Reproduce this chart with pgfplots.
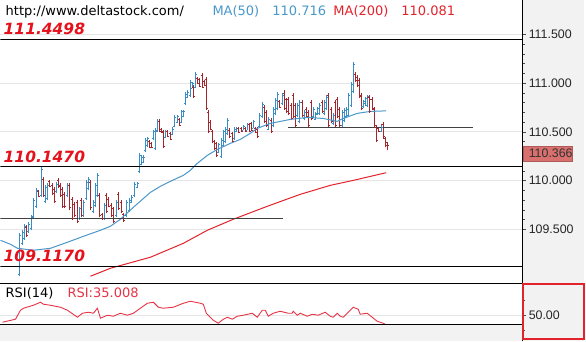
\documentclass[border=0pt]{standalone}
\usepackage{pgfplots}
\pgfplotsset{compat=1.18}
\usepackage{pgfplotstable}
\usepackage{fontspec}
\setmainfont{DejaVu Sans}
\newfontfamily\labfont{Liberation Sans}
\newfontfamily\lvlfont{DejaVu Sans Bold Oblique}
\definecolor{barblue}{HTML}{3A8DC4}
\definecolor{barred}{HTML}{A3262C}
\definecolor{mablue}{HTML}{4A98C9}
\definecolor{mared}{HTML}{E3232C}
\definecolor{rsired}{HTML}{E63446}
\definecolor{lvlred}{HTML}{E5111B}
\definecolor{gridc}{HTML}{E6E6E6}
\definecolor{panelgray}{HTML}{F2F2F2}
\definecolor{pricebox}{HTML}{D9706E}
\pgfdeclareplotmark{otick}{\pgfpathmoveto{\pgfqpoint{-1.7pt}{0pt}}\pgfpathlineto{\pgfqpoint{0pt}{0pt}}\pgfusepathqstroke}
\pgfdeclareplotmark{ctick}{\pgfpathmoveto{\pgfqpoint{0pt}{0pt}}\pgfpathlineto{\pgfqpoint{1.7pt}{0pt}}\pgfusepathqstroke}

\pgfplotstableread{
x o h l c
19 109.04 109.459 109.018 109.44
22 109.36 109.490 109.336 109.47
24 109.41 109.551 109.387 109.53
28 109.48 109.572 109.459 109.55
31 109.51 109.643 109.490 109.62
33 109.63 109.818 109.613 109.80
36 109.74 109.920 109.715 109.90
41 109.85 110.136 109.828 110.11
45 109.79 109.951 109.767 109.93
47 109.82 109.972 109.797 109.95
56 109.89 109.982 109.869 109.96
67 109.85 109.972 109.828 109.95
79 109.61 109.726 109.592 109.71
83 109.64 109.797 109.623 109.78
86 109.82 110.002 109.797 109.98
88 109.92 110.033 109.900 110.01
93 109.68 109.797 109.664 109.78
95 109.75 109.972 109.726 109.95
97 109.85 110.074 109.828 110.05
104 109.61 109.767 109.592 109.75
116 109.64 109.797 109.623 109.78
126 109.64 109.797 109.623 109.78
129 109.69 109.818 109.674 109.80
131 109.78 109.849 109.767 109.83
134 109.85 109.982 109.828 109.96
137 109.93 109.982 109.920 109.97
139 110.09 110.279 110.074 110.26
141 110.17 110.259 110.156 110.24
143 110.19 110.259 110.177 110.24
145 110.31 110.433 110.290 110.41
147 110.36 110.444 110.341 110.43
153 110.43 110.515 110.413 110.50
155 110.33 110.536 110.310 110.52
157 110.51 110.628 110.495 110.61
165 110.44 110.515 110.433 110.50
172 110.47 110.546 110.464 110.53
174 110.56 110.669 110.546 110.65
177 110.60 110.669 110.587 110.66
181 110.60 110.721 110.587 110.71
183 110.66 110.721 110.649 110.71
185 110.79 110.905 110.772 110.89
187 110.85 110.926 110.844 110.91
190 110.87 111.028 110.854 111.01
192 110.95 111.008 110.946 111.00
195 110.96 111.110 110.946 111.09
218 110.29 110.382 110.279 110.37
221 110.25 110.433 110.228 110.41
223 110.36 110.515 110.341 110.50
225 110.40 110.546 110.382 110.53
227 110.48 110.638 110.464 110.62
234 110.43 110.546 110.413 110.53
236 110.50 110.546 110.495 110.54
243 110.52 110.567 110.515 110.56
247 110.52 110.587 110.515 110.58
253 110.54 110.618 110.536 110.61
259 110.56 110.690 110.546 110.67
262 110.66 110.803 110.638 110.78
268 110.53 110.649 110.515 110.63
273 110.57 110.751 110.546 110.73
275 110.69 110.844 110.669 110.82
277 110.74 110.905 110.721 110.88
282 110.79 110.895 110.772 110.87
297 110.67 110.792 110.649 110.77
299 110.61 110.823 110.587 110.80
304 110.64 110.721 110.618 110.70
313 110.66 110.751 110.638 110.73
315 110.63 110.700 110.618 110.69
317 110.68 110.751 110.669 110.74
319 110.69 110.792 110.669 110.77
324 110.69 110.823 110.669 110.80
326 110.74 110.874 110.721 110.85
333 110.59 110.690 110.567 110.67
342 110.57 110.721 110.546 110.70
344 110.62 110.741 110.597 110.72
346 110.66 110.751 110.638 110.73
348 110.67 110.895 110.649 110.87
351 110.77 111.008 110.751 110.99
353 110.92 111.213 110.895 111.19
363 110.76 110.823 110.741 110.81
365 110.79 110.854 110.772 110.84
367 110.77 110.874 110.751 110.86
381 110.51 110.567 110.495 110.55
}\upbars

\pgfplotstableread{
x o h l c
26 109.52 109.541 109.418 109.44
38 109.89 109.900 109.828 109.84
43 110.01 110.033 109.828 109.85
49 109.99 110.002 109.931 109.94
52 109.95 109.972 109.849 109.87
54 109.91 109.931 109.767 109.79
58 110.00 110.023 109.920 109.94
60 109.95 109.972 109.828 109.85
62 109.91 109.931 109.715 109.74
64 109.86 109.879 109.715 109.74
69 109.95 109.972 109.695 109.72
72 109.81 109.828 109.592 109.61
74 109.76 109.777 109.623 109.64
77 109.78 109.797 109.561 109.58
81 109.80 109.818 109.623 109.64
90 109.98 110.002 109.695 109.72
99 109.85 109.869 109.623 109.64
102 109.65 109.664 109.592 109.61
106 109.85 109.869 109.664 109.68
108 109.81 109.828 109.726 109.74
111 109.75 109.767 109.623 109.64
113 109.71 109.726 109.561 109.58
118 109.86 109.879 109.695 109.71
121 109.78 109.797 109.664 109.68
123 109.65 109.664 109.572 109.59
149 110.40 110.413 110.331 110.34
151 110.38 110.392 110.331 110.34
159 110.61 110.628 110.495 110.51
161 110.53 110.536 110.485 110.49
163 110.50 110.515 110.331 110.35
167 110.50 110.515 110.444 110.45
170 110.48 110.495 110.413 110.42
179 110.63 110.638 110.567 110.57
193 110.96 110.977 110.844 110.86
197 111.05 111.059 110.997 111.00
199 111.04 111.049 110.956 110.97
202 111.08 111.100 110.946 110.96
204 111.02 111.028 110.977 110.98
206 111.04 111.059 110.721 110.74
208 110.70 110.721 110.485 110.50
210 110.60 110.618 110.515 110.53
212 110.50 110.515 110.382 110.40
214 110.40 110.413 110.310 110.33
216 110.38 110.392 110.238 110.26
229 110.52 110.536 110.433 110.45
232 110.48 110.495 110.382 110.40
238 110.54 110.546 110.485 110.49
241 110.54 110.546 110.495 110.50
245 110.54 110.546 110.495 110.50
249 110.58 110.587 110.495 110.50
251 110.59 110.597 110.515 110.52
255 110.54 110.546 110.485 110.49
257 110.53 110.546 110.433 110.45
264 110.75 110.772 110.587 110.61
266 110.70 110.721 110.546 110.57
271 110.62 110.638 110.485 110.50
279 110.81 110.823 110.741 110.75
284 110.90 110.926 110.721 110.74
286 110.83 110.844 110.690 110.71
288 110.83 110.854 110.669 110.69
291 110.77 110.792 110.618 110.64
293 110.87 110.895 110.638 110.66
295 110.77 110.792 110.546 110.57
302 110.80 110.823 110.649 110.67
306 110.73 110.751 110.638 110.66
308 110.70 110.721 110.546 110.57
311 110.80 110.823 110.618 110.64
322 110.80 110.823 110.690 110.71
328 110.87 110.895 110.546 110.57
331 110.73 110.751 110.587 110.61
335 110.80 110.823 110.546 110.57
337 110.83 110.854 110.638 110.66
339 110.73 110.751 110.546 110.57
355 111.09 111.110 111.008 111.03
357 111.06 111.079 110.956 110.98
359 111.03 111.049 110.844 110.86
361 110.87 110.895 110.721 110.74
369 110.85 110.874 110.690 110.71
372 110.83 110.854 110.721 110.74
374 110.73 110.751 110.546 110.57
376 110.55 110.567 110.392 110.41
378 110.54 110.546 110.495 110.50
383 110.58 110.597 110.433 110.45
385 110.43 110.444 110.341 110.36
387 110.39 110.400 110.310 110.366
}\downbars

\pgfplotsset{chartpanel/.style={
  anchor=south west, scale only axis, width=522pt,
  xmin=0, xmax=522, xtick=\empty,
  axis line style={draw=none},
  ytick pos=right,
  scaled y ticks=false,
  tick align=outside,
  major tick length=4pt, minor tick length=3pt,
  every tick/.style={black!70, line width=0.6pt},
  ymajorgrids, major grid style={gridc, line width=0.8pt},
  /pgf/number format/assume math mode=true,
  yticklabel style={font=\labfont\fontsize{12.4}{14}\selectfont, text=black!85, inner sep=0pt, xshift=2.5pt},
}}

\begin{document}
\begin{tikzpicture}[x=1pt,y=1pt]
\fill[white] (0,0) rectangle (586,341);
\fill[panelgray] (522,0) rectangle (584,341);
\fill[panelgray] (0,0) rectangle (522,17);

\begin{axis}[chartpanel,
  at={(0pt,58pt)}, height=283pt,
  ymin=108.946, ymax=111.849,
  ytick={109.5,110,110.5,111,111.5},
  minor y tick num=4,
  yticklabel={\pgfmathprintnumber[fixed,precision=3,zerofill]{\tick}},
]
% up bars
\addplot[draw=none, forget plot, error bars/.cd, y dir=plus, y explicit, error mark=none,
  error bar style={barblue, line width=0.8pt}]
  table[x=x, y=l, y error plus expr=\thisrow{h}-\thisrow{l}] {\upbars};
\addplot[only marks, mark=otick, mark options={barblue, line width=0.8pt}] table[x=x, y=o] {\upbars};
\addplot[only marks, mark=ctick, mark options={barblue, line width=0.8pt}] table[x=x, y=c] {\upbars};
% down bars
\addplot[draw=none, forget plot, error bars/.cd, y dir=plus, y explicit, error mark=none,
  error bar style={barred, line width=0.8pt}]
  table[x=x, y=l, y error plus expr=\thisrow{h}-\thisrow{l}] {\downbars};
\addplot[only marks, mark=otick, mark options={barred, line width=0.8pt}] table[x=x, y=o] {\downbars};
\addplot[only marks, mark=ctick, mark options={barred, line width=0.8pt}] table[x=x, y=c] {\downbars};
% MA(50)
\addplot[mablue, line width=1pt] coordinates {
(0,109.387) (10,109.346) (17,109.305) (33,109.285) (50,109.305) (67,109.367) (83,109.428)
(100,109.490) (110,109.531) (120,109.603) (133,109.726) (150,109.879) (160,109.941)
(170,109.992) (183,110.054) (190,110.105) (197,110.177) (207,110.259) (217,110.320)
(230,110.382) (240,110.423) (250,110.485) (257,110.536) (270,110.587) (290,110.628)
(307,110.649) (323,110.638) (337,110.608) (343,110.638) (357,110.690) (370,110.710) (386,110.716)};
% MA(200)
\addplot[mared, line width=1pt] coordinates {
(90,109.018) (110,109.100) (150,109.213) (183,109.356) (207,109.490) (233,109.603)
(267,109.736) (300,109.859) (330,109.951) (353,110.002) (386,110.081)};
% levels
\addplot[black, line width=1pt] coordinates {(0,111.4498) (522,111.4498)};
\addplot[black, line width=1pt] coordinates {(0,110.1470) (522,110.1470)};
\addplot[black, line width=1pt] coordinates {(0,109.1170) (522,109.1170)};
\addplot[black!75, line width=1.3pt] coordinates {(0,109.613) (283,109.613)};
\addplot[black!75, line width=1.3pt] coordinates {(288,110.546) (473,110.546)};
\end{axis}

\begin{axis}[chartpanel,
  at={(0pt,17pt)}, height=41pt,
  ymin=35, ymax=103.33,
  ytick={50}, minor ytick={75},
  yticklabel={\pgfmathprintnumber[fixed,precision=2,zerofill]{\tick}},
]
\addplot[rsired, line width=0.9pt] coordinates {
(2,38.33) (15,43.33) (20,58.33) (23,61.67) (33,66.67) (40,71.67) (43,68.33) (50,66.67)
(60,63.33) (67,58.33) (77,46.67) (82,53.33) (88,55.00) (93,53.33) (97,61.67) (100,45.00)
(107,50.00) (113,48.33) (120,53.33) (127,50.00) (133,53.33) (140,61.67) (147,70.00)
(153,71.67) (158,63.33) (163,61.67) (173,63.33) (183,70.00) (190,73.33) (200,70.00)
(203,68.33) (206,53.33) (213,41.67) (218,36.67) (223,43.33) (227,46.67) (232,43.33)
(237,48.33) (243,50.00) (252,53.33) (257,46.67) (262,58.33) (265,58.33) (268,48.33)
(273,53.33) (280,56.67) (288,53.33) (292,53.33) (293,56.67) (297,50.00) (300,53.33)
(307,48.33) (312,51.67) (318,50.00) (325,55.00) (330,48.33) (333,46.67) (337,53.33)
(340,48.33) (343,46.67) (348,55.00) (353,63.33) (358,60.00) (360,51.67) (367,53.33)
(372,46.67) (377,40.00) (380,38.33) (383,36.67) (385,35.01)};
\end{axis}

% frame lines
\draw[black, line width=1pt] (522,0) -- (522,341);
\draw[black, line width=1pt] (0,58) -- (522,58);
\draw[black, line width=1pt] (0,17) -- (522,17);
\draw[black!70, line width=0.6pt] (522,11) -- (525,11);

% price box
\fill[pricebox] (523,180.3) rectangle (572.7,195.3);
\draw[pricebox!80!black, line width=0.6pt] (523,180.3) rectangle (572.7,195.3);
\node[anchor=west, inner sep=0pt, text=black!80] at (528.5,187.8) {\labfont\fontsize{12.4}{14}\selectfont 110.366};

% RSI axis box
\draw[mared, line width=2pt] (523.2,2.7) rectangle (583.7,57.2);

% header texts
\node[anchor=base west, inner sep=0pt] at (5,326) {\fontsize{13}{15}\selectfont http://www.deltastock.com/};
\node[anchor=base west, inner sep=0pt, text=mablue] at (212,326) {\fontsize{13}{15}\selectfont MA(50)};
\node[anchor=base west, inner sep=0pt, text=mablue] at (272,326) {\fontsize{13}{15}\selectfont 110.716};
\node[anchor=base west, inner sep=0pt, text=mared] at (333,326) {\fontsize{13}{15}\selectfont MA(200)};
\node[anchor=base west, inner sep=0pt, text=mared] at (401,326) {\fontsize{13}{15}\selectfont 110.081};

% level labels
\node[anchor=base west, inner sep=0pt, text=lvlred] at (3,306.5) {\lvlfont\fontsize{15.5}{17}\selectfont 111.4498};
\node[anchor=base west, inner sep=0pt, text=lvlred] at (3,179.3) {\lvlfont\fontsize{15.5}{17}\selectfont 110.1470};
\node[anchor=base west, inner sep=0pt, text=lvlred] at (3,79.3) {\lvlfont\fontsize{15.5}{17}\selectfont 109.1170};

% RSI labels
\node[anchor=base west, inner sep=0pt] at (5,43.5) {\fontsize{13}{15}\selectfont RSI(14)};
\node[anchor=base west, inner sep=0pt, text=rsired] at (67,43.5) {\fontsize{13}{15}\selectfont RSI:35.008};
\end{tikzpicture}
\end{document}
